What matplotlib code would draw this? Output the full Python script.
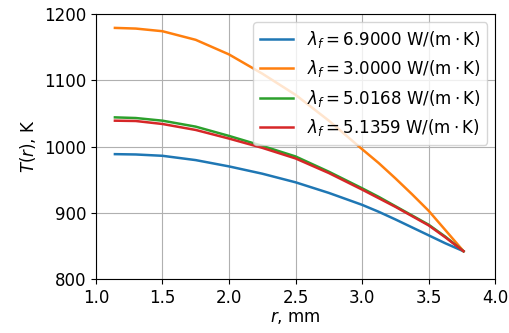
import matplotlib
matplotlib.use('Agg')
import matplotlib.pyplot as plt

# radius, mm
r = [1.143, 1.3, 1.5, 1.75, 2.0, 2.25, 2.5, 2.75, 3.0, 3.125, 3.25, 3.375, 3.5, 3.625, 3.762]

# temperature T(r), K for each lambda_f
t_69 = [988.5, 988, 986, 979.5, 970, 959, 946, 930, 912, 901.5, 890, 878, 866, 854, 842]
t_30 = [1179, 1178, 1174, 1161, 1139, 1110, 1078, 1039, 996, 975, 952, 928, 903, 874, 842]
t_50 = [1044, 1043, 1039, 1030, 1016, 1001, 985, 962, 937, 924, 910, 896, 882, 864, 842]
t_51 = [1039, 1038.5, 1034, 1025, 1012, 998, 982, 960, 935, 922, 909, 895, 881, 863, 842]

labels = [r'$\lambda_f = 6.9000\ \mathrm{W/(m\cdot K)}$',
          r'$\lambda_f = 3.0000\ \mathrm{W/(m\cdot K)}$',
          r'$\lambda_f = 5.0168\ \mathrm{W/(m\cdot K)}$',
          r'$\lambda_f = 5.1359\ \mathrm{W/(m\cdot K)}$']

fig = plt.figure(figsize=(5.1, 3.33), dpi=100)
ax = fig.add_axes([0.188, 0.162, 0.783, 0.796])

for t, lab in zip([t_69, t_30, t_50, t_51], labels):
    ax.plot(r, t, lw=1.8, label=lab)

ax.set_xlim(1.0, 4.0)
ax.set_ylim(800, 1200)
ax.set_xticks([1.0, 1.5, 2.0, 2.5, 3.0, 3.5, 4.0])
ax.set_yticks([800, 900, 1000, 1100, 1200])
ax.tick_params(labelsize=12)
ax.grid(True)
ax.set_xlabel(r'$r$, mm', fontsize=12, labelpad=1)
ax.set_ylabel(r'$T(r)$, K', fontsize=12)
ax.legend(loc='upper right', fontsize=12)

fig.savefig('out.png', dpi=100)
